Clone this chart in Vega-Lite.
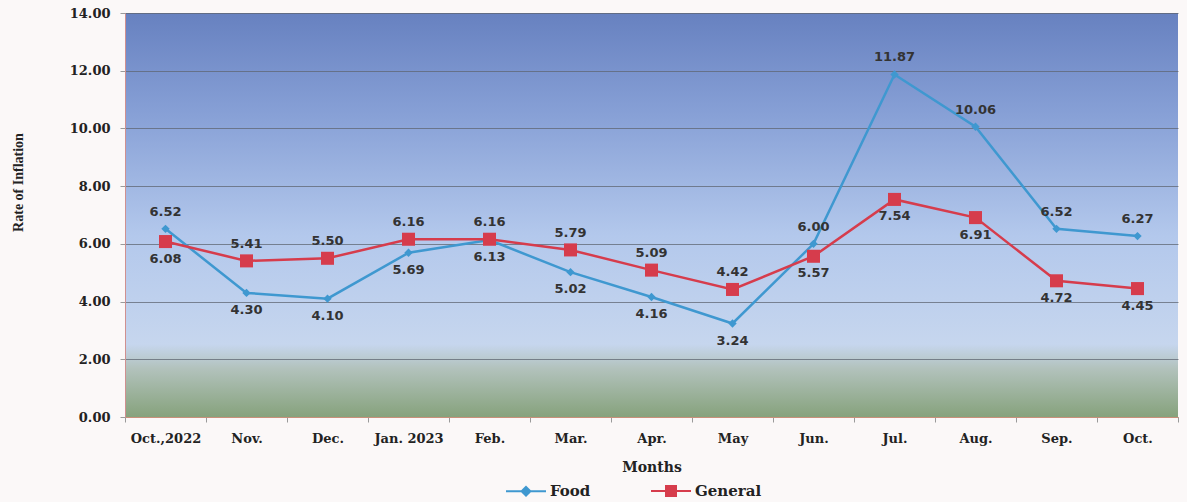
{
  "$schema": "https://vega.github.io/schema/vega-lite/v6.json",
  "width": 1053,
  "height": 404,
  "autosize": {"type": "none"},
  "padding": {"left": 125, "top": 13, "right": 9, "bottom": 85},
  "background": "#fbf8f8",
  "config": {
    "view": {
      "stroke": null,
      "fill": {
        "gradient": "linear",
        "x1": 0, "y1": 0, "x2": 0, "y2": 1,
        "stops": [
          {"offset": 0, "color": "#6781c0"},
          {"offset": 0.25, "color": "#87a0d6"},
          {"offset": 0.55, "color": "#b3c8ec"},
          {"offset": 0.82, "color": "#c6d6ee"},
          {"offset": 0.88, "color": "#b2c2bc"},
          {"offset": 1, "color": "#86a27c"}
        ]
      }
    },
    "axis": {
      "labelFont": "DejaVu Serif",
      "labelFontWeight": "bold",
      "labelFontSize": 13,
      "labelColor": "#222222",
      "titleFont": "DejaVu Serif",
      "titleFontWeight": "bold",
      "titleFontSize": 14,
      "titleColor": "#222222"
    }
  },
  "data": {
    "values": [
      {"month": "Oct.,2022", "series": "Food", "value": 6.52},
      {"month": "Nov.", "series": "Food", "value": 4.30},
      {"month": "Dec.", "series": "Food", "value": 4.10},
      {"month": "Jan. 2023", "series": "Food", "value": 5.69},
      {"month": "Feb.", "series": "Food", "value": 6.13},
      {"month": "Mar.", "series": "Food", "value": 5.02},
      {"month": "Apr.", "series": "Food", "value": 4.16},
      {"month": "May", "series": "Food", "value": 3.24},
      {"month": "Jun.", "series": "Food", "value": 6.00},
      {"month": "Jul.", "series": "Food", "value": 11.87},
      {"month": "Aug.", "series": "Food", "value": 10.06},
      {"month": "Sep.", "series": "Food", "value": 6.52},
      {"month": "Oct.", "series": "Food", "value": 6.27},
      {"month": "Oct.,2022", "series": "General", "value": 6.08},
      {"month": "Nov.", "series": "General", "value": 5.41},
      {"month": "Dec.", "series": "General", "value": 5.50},
      {"month": "Jan. 2023", "series": "General", "value": 6.16},
      {"month": "Feb.", "series": "General", "value": 6.16},
      {"month": "Mar.", "series": "General", "value": 5.79},
      {"month": "Apr.", "series": "General", "value": 5.09},
      {"month": "May", "series": "General", "value": 4.42},
      {"month": "Jun.", "series": "General", "value": 5.57},
      {"month": "Jul.", "series": "General", "value": 7.54},
      {"month": "Aug.", "series": "General", "value": 6.91},
      {"month": "Sep.", "series": "General", "value": 4.72},
      {"month": "Oct.", "series": "General", "value": 4.45}
    ]
  },
  "encoding": {
    "x": {
      "field": "month",
      "type": "ordinal",
      "sort": ["Oct.,2022", "Nov.", "Dec.", "Jan. 2023", "Feb.", "Mar.", "Apr.", "May", "Jun.", "Jul.", "Aug.", "Sep.", "Oct."],
      "scale": {"type": "band", "paddingInner": 0, "paddingOuter": 0},
      "axis": {
        "title": "Months",
        "labelAngle": 0,
        "tickBand": "extent",
        "tickSize": 5,
        "tickColor": "#9a9a9a",
        "domainColor": "#c8907a",
        "labelPadding": 10,
        "titleY": 43,
        "titleBaseline": "top",
        "grid": false
      }
    },
    "y": {
      "field": "value",
      "type": "quantitative",
      "scale": {"domain": [0, 14], "nice": false},
      "axis": {
        "title": "Rate of Inflation",
        "values": [0, 2, 4, 6, 8, 10, 12, 14],
        "format": ".2f",
        "grid": true,
        "gridColor": "#5f6672",
        "gridOpacity": 0.75,
        "gridWidth": 1,
        "tickSize": 5,
        "tickColor": "#9a9a9a",
        "domainColor": "#d09090",
        "labelPadding": 10,
        "titleFont": "Liberation Serif",
        "titleX": -107,
        "titleY": 169,
        "titleAngle": -90,
        "titleAlign": "center",
        "titleBaseline": "middle",
        "titleFontSize": 14
      }
    },
    "color": {
      "field": "series",
      "type": "nominal",
      "scale": {"domain": ["Food", "General"], "range": ["#3f98d0", "#d63c4c"]},
      "legend": {
        "title": null,
        "orient": "none",
        "legendX": 380,
        "legendY": 457,
        "direction": "horizontal",
        "symbolSize": 1600,
        "symbolStrokeWidth": 2,
        "columnPadding": 56,
        "labelFont": "DejaVu Serif",
        "labelFontWeight": "bold",
        "labelFontSize": 15,
        "labelColor": "#222222",
        "labelOffset": 3,
        "encode": {
          "symbols": {
            "update": {
              "shape": {"signal": "datum.value === 'Food' ? 'M-1,0H1M0,-0.22L0.22,0L0,0.22L-0.22,0Z' : 'M-1,0H1M-0.25,-0.25H0.25V0.25H-0.25Z'"},
              "fill": {"signal": "datum.value === 'Food' ? '#3f98d0' : '#d63c4c'"},
              "stroke": {"signal": "datum.value === 'Food' ? '#3f98d0' : '#d63c4c'"},
              "strokeWidth": {"value": 2},
              "opacity": {"value": 1},
              "fillOpacity": {"value": 1}
            }
          }
        }
      }
    }
  },
  "layer": [
    {"mark": {"type": "line", "strokeWidth": 2.5}},
    {
      "mark": {"type": "point", "filled": true, "opacity": 1},
      "encoding": {
        "shape": {"condition": {"test": "datum.series === 'Food'", "value": "diamond"}, "value": "square"},
        "size": {"condition": {"test": "datum.series === 'Food'", "value": 70}, "value": 170}
      }
    },
    {
      "transform": [
        {"joinaggregate": [{"op": "max", "field": "value", "as": "maxv"}], "groupby": ["month"]},
        {"filter": "datum.value == datum.maxv"}
      ],
      "mark": {"type": "text", "dy": -17, "font": "DejaVu Sans", "fontWeight": "bold", "fontSize": 13, "color": "#333333"},
      "encoding": {"text": {"field": "value", "type": "quantitative", "format": ".2f"}, "color": {"value": "#333333"}}
    },
    {
      "transform": [
        {"joinaggregate": [{"op": "max", "field": "value", "as": "maxv"}], "groupby": ["month"]},
        {"filter": "datum.value < datum.maxv"}
      ],
      "mark": {"type": "text", "dy": 17, "font": "DejaVu Sans", "fontWeight": "bold", "fontSize": 13, "color": "#333333"},
      "encoding": {"text": {"field": "value", "type": "quantitative", "format": ".2f"}, "color": {"value": "#333333"}}
    }
  ]
}
